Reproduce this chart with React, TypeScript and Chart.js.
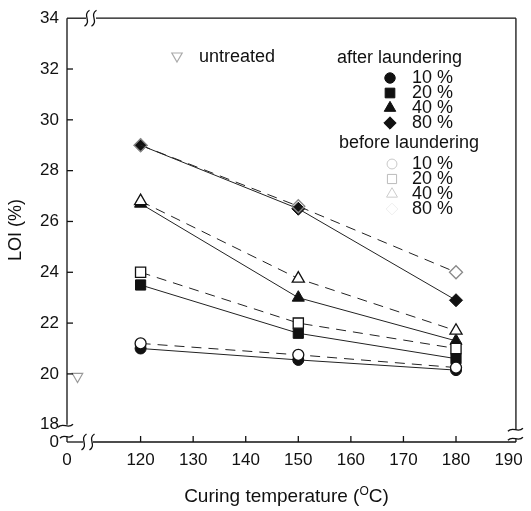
import React, { useEffect, useRef } from 'react';
import { Chart, registerables, LinearScale } from 'chart.js';

// ---- data ----
const temperatures = [120, 150, 180];
const afterLaundering10 = [21.0, 20.55, 20.15];
const afterLaundering20 = [23.5, 21.6, 20.6];
const afterLaundering40 = [26.7, 23.0, 21.3];
const afterLaundering80 = [29.0, 26.5, 22.9];
const beforeLaundering10 = [21.2, 20.75, 20.25];
const beforeLaundering20 = [24.0, 22.0, 21.0];
const beforeLaundering40 = [26.8, 23.75, 21.7];
const beforeLaundering80 = [29.0, 26.6, 24.0];
const untreatedTemperature = [2];
const untreatedLOI = [19.9];
const percentLabels = ['10 %', '20 %', '40 %', '80 %'];
const xTickValues = [0, 120, 130, 140, 150, 160, 170, 180, 190];
const yTickValues = [0, 18, 20, 22, 24, 26, 28, 30, 32, 34];

const FONT = '"Liberation Sans", Arial, Helvetica, sans-serif';
const INK = '#111';
const markerStyles = ['circle', 'rect', 'triangle', 'rectRot'];
const markerRadii = [5.5, 7.2, 7, 6.5];

// Linear scale with an axis break: values below `breakTo` are squeezed
// into the short segment that starts at `breakMin` (same scale near zero).
class BrokenLinearScale extends LinearScale {
  static id = 'brokenLinear';
  static defaults = {};
  getPixelForValue(value: number, index?: number) {
    const o: any = this.options;
    const lo = o.breakMin as number;
    const hi = o.breakTo as number;
    let v = value;
    if (value != null && value < hi) v = Math.min(lo + value, hi);
    return super.getPixelForValue(v, index);
  }
}

Chart.register(...registerables, BrokenLinearScale);

function drawMarker(ctx: CanvasRenderingContext2D, style: string, x: number, y: number, r: number,
  fill: string | null, stroke: string | null, lw = 1.3, inverted = false) {
  ctx.save();
  ctx.beginPath();
  if (style === 'circle') ctx.arc(x, y, r, 0, Math.PI * 2);
  else if (style === 'rect') { const s = r * Math.SQRT1_2; ctx.rect(x - s, y - s, 2 * s, 2 * s); }
  else if (style === 'rectRot') { ctx.moveTo(x - r, y); ctx.lineTo(x, y - r); ctx.lineTo(x + r, y); ctx.lineTo(x, y + r); ctx.closePath(); }
  else {
    const d = inverted ? -1 : 1;
    ctx.moveTo(x, y - d * r);
    ctx.lineTo(x + 0.866 * r, y + d * r / 2);
    ctx.lineTo(x - 0.866 * r, y + d * r / 2);
    ctx.closePath();
  }
  if (fill) { ctx.fillStyle = fill; ctx.fill(); }
  if (stroke) { ctx.strokeStyle = stroke; ctx.lineWidth = lw; ctx.stroke(); }
  ctx.restore();
}

const decorPlugin = {
  id: 'decor',
  afterDraw(chart: any) {
    const ctx: CanvasRenderingContext2D = chart.ctx;
    const { left, right, top, bottom } = chart.chartArea;
    const xs = chart.scales.x;
    const ys = chart.scales.y;
    const y18 = ys.getPixelForValue(18);
    ctx.save();
    ctx.strokeStyle = INK;
    ctx.lineWidth = 1.3;
    const line = (x1: number, y1: number, x2: number, y2: number) => {
      ctx.beginPath(); ctx.moveTo(x1, y1); ctx.lineTo(x2, y2); ctx.stroke();
    };
    const tilde = (x1: number, x2: number, y: number) => {
      const w = x2 - x1;
      ctx.beginPath(); ctx.moveTo(x1, y + 1.5);
      ctx.bezierCurveTo(x1 + w / 3, y - 4, x1 + (2 * w) / 3, y + 4, x2, y - 1.5);
      ctx.stroke();
    };
    const sMark = (x: number, y: number, h: number) => {
      ctx.beginPath(); ctx.moveTo(x - 2.5, y + h / 2);
      ctx.bezierCurveTo(x + 5, y + h / 5, x - 5, y - h / 5, x + 2.5, y - h / 2);
      ctx.stroke();
    };
    // left axis with break
    line(left, top, left, y18);
    tilde(left - 9, left + 6, y18 + 1);
    tilde(left - 7, left + 6, y18 + 12);
    line(left, y18 + 12, left, bottom);
    // right axis with break
    line(right, top, right, y18 + 5);
    tilde(right - 8, right + 7, y18 + 5);
    tilde(right - 8, right + 7, y18 + 14);
    line(right, y18 + 14, right, bottom);
    // top border with break
    line(left, top, left + 19, top);
    line(left + 29, top, right, top);
    sMark(left + 20, top, 16);
    sMark(left + 27, top, 16);
    // bottom axis with break
    line(left, bottom, left + 16, bottom);
    line(left + 26, bottom, right, bottom);
    sMark(left + 17, bottom, 16);
    sMark(left + 25, bottom, 16);
    // tick marks (inward)
    yTickValues.forEach(v => {
      if (v > 18 && v < 34) { const p = ys.getPixelForValue(v); line(left, p, left + 6, p); }
    });
    xTickValues.forEach(v => {
      if (v >= 120 && v < 190) { const p = xs.getPixelForValue(v); line(p, bottom, p, bottom - 6); }
    });

    // legend
    ctx.fillStyle = INK;
    ctx.textBaseline = 'middle';
    ctx.textAlign = 'left';
    ctx.font = `18px ${FONT}`;
    drawMarker(ctx, 'triangle', 177, 56, 6, null, '#aaa', 1.2, true);
    ctx.fillText('untreated', 199, 57);
    ctx.fillText('after laundering', 337, 58);
    const afterRows = [78, 93, 108, 123];
    afterRows.forEach((y, i) => {
      drawMarker(ctx, markerStyles[i], 390, y, markerRadii[i] * 0.95, INK, INK, 1);
      ctx.fillText(percentLabels[i], 412, y);
    });
    ctx.fillText('before laundering', 339, 143);
    const beforeRows = [164, 179, 194, 209];
    const faint = ['#c8c8c8', '#bbbbbb', '#cccccc', '#eeeeee'];
    beforeRows.forEach((y, i) => {
      drawMarker(ctx, markerStyles[i], 392, y, markerRadii[i] * 0.9, null, faint[i], 1);
      ctx.fillText(percentLabels[i], 412, y);
    });

    // x-axis title with superscript O
    const cx = (left + right) / 2 - 5;
    const ty = 497;
    const big = `19px ${FONT}`;
    const small = `12px ${FONT}`;
    const a = 'Curing temperature (';
    const b = 'O';
    const c = 'C)';
    ctx.font = big; const wa = ctx.measureText(a).width; const wc = ctx.measureText(c).width;
    ctx.font = small; const wb = ctx.measureText(b).width;
    let x0 = cx - (wa + wb + wc) / 2;
    ctx.font = big; ctx.fillText(a, x0, ty); x0 += wa;
    ctx.font = small; ctx.fillText(b, x0, ty - 5); x0 += wb;
    ctx.font = big; ctx.fillText(c, x0, ty);
    ctx.restore();
  },
};

const toPoints = (ys: number[]) => temperatures.map((x, i) => ({ x, y: ys[i] }));

export default function App() {
  const ref = useRef<HTMLCanvasElement | null>(null);
  useEffect(() => {
    if (!ref.current) return;
    Chart.defaults.font.family = FONT;
    Chart.defaults.color = INK;
    const afterSeries = [afterLaundering10, afterLaundering20, afterLaundering40, afterLaundering80];
    const beforeSeries = [beforeLaundering10, beforeLaundering20, beforeLaundering40, beforeLaundering80];
    const datasets: any[] = [
      ...beforeSeries.map((s, i) => ({
        label: `before laundering ${percentLabels[i]}`,
        data: toPoints(s),
        order: 0,
        showLine: true,
        borderColor: '#222',
        borderWidth: 1,
        borderDash: [10, 7],
        pointStyle: markerStyles[i],
        pointRadius: markerRadii[i],
        pointBackgroundColor: i === 3 ? 'rgba(0,0,0,0)' : '#ffffff',
        pointBorderColor: i === 3 ? '#888' : INK,
        pointBorderWidth: 1.3,
        tension: 0,
        clip: false,
      })),
      ...afterSeries.map((s, i) => ({
        label: `after laundering ${percentLabels[i]}`,
        data: toPoints(s),
        order: 1,
        showLine: true,
        borderColor: '#222',
        borderWidth: 1,
        pointStyle: markerStyles[i],
        pointRadius: markerRadii[i],
        pointBackgroundColor: INK,
        pointBorderColor: INK,
        pointBorderWidth: 1,
        tension: 0,
        clip: false,
      })),
      {
        label: 'untreated',
        data: untreatedTemperature.map((x, i) => ({ x, y: untreatedLOI[i] })),
        order: 2,
        showLine: false,
        pointStyle: 'triangle',
        pointRotation: 180,
        pointRadius: 6,
        pointBackgroundColor: 'rgba(0,0,0,0)',
        pointBorderColor: '#999',
        pointBorderWidth: 1.2,
        clip: false,
      },
    ];
    const chart = new Chart(ref.current, {
      type: 'line',
      data: { datasets },
      plugins: [decorPlugin],
      options: {
        animation: false,
        responsive: false,
        events: [],
        layout: { padding: { top: 18, right: 15, left: 0, bottom: 0 } },
        plugins: { legend: { display: false }, tooltip: { enabled: false } },
        scales: {
          x: {
            type: 'brokenLinear' as any,
            position: 'bottom',
            bounds: 'data',
            breakMin: 106,
            breakTo: 120,
            afterDataLimits: (s: any) => { s.min = 106; s.max = 191.4; },
            afterBuildTicks: (s: any) => { s.ticks = xTickValues.map(v => ({ value: v })); },
            afterFit: (s: any) => { s.height = 69; },
            grid: { display: false, drawTicks: false },
            border: { display: false },
            ticks: { autoSkip: false, maxRotation: 0, padding: 8, font: { size: 17 }, color: INK, callback: (v: any) => String(v) },
          } as any,
          y: {
            type: 'brokenLinear' as any,
            position: 'left',
            bounds: 'data',
            breakMin: 17.32,
            breakTo: 18,
            afterDataLimits: (s: any) => { s.min = 17.32; s.max = 34; },
            afterBuildTicks: (s: any) => { s.ticks = yTickValues.map(v => ({ value: v })); },
            afterFit: (s: any) => { s.width = 67; },
            grid: { display: false, drawTicks: false },
            border: { display: false },
            title: { display: true, text: 'LOI (%)', font: { size: 18 }, color: INK, padding: { top: 5, bottom: 0 } },
            ticks: { autoSkip: false, padding: 8, font: { size: 17 }, color: INK, callback: (v: any) => String(v) },
          } as any,
        },
      } as any,
    });
    return () => chart.destroy();
  }, []);
  return (
    <div style={{ position: 'absolute', left: 0, top: 0, width: 531, height: 511, background: '#fff' }}>
      <canvas ref={ref} width={531} height={511} style={{ display: 'block', width: 531, height: 511 }} />
    </div>
  );
}
